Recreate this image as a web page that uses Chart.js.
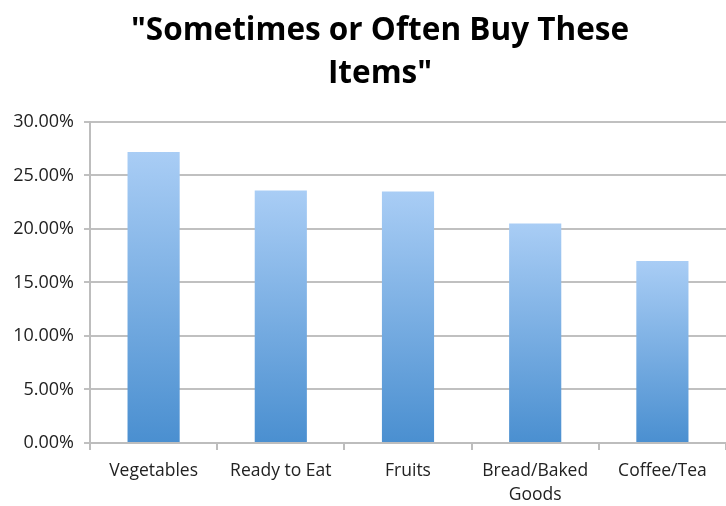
<!DOCTYPE html>
<html>
<head>
<meta charset="utf-8">
<script src="https://cdn.jsdelivr.net/npm/chart.js@4"></script>
<style>
  html, body { margin: 0; padding: 0; background: #fff; }
  #wrap { width: 726px; height: 506px; }
</style>
</head>
<body>
<div id="wrap"><canvas id="buyChart"></canvas></div>
<script>
// categories and share of respondents (percent)
const categories = ['Vegetables', 'Ready to Eat', 'Fruits', ['Bread/Baked', 'Goods'], 'Coffee/Tea']
const shares = [27.2, 23.6, 23.5, 20.5, 17.0]
const titleLines = ['"Sometimes or Often Buy These', 'Items"']

const yMax = 30
const yStep = 5

// each bar fades from light blue at its top to a deeper blue at the base
function barFill(ctx) {
    const chart = ctx.chart
    if (ctx.type !== 'data' || !chart.chartArea) return '#7fb0e6'
    const y = chart.scales.y
    const top = y.getPixelForValue(ctx.raw)
    const bottom = y.getPixelForValue(0)
    const g = chart.ctx.createLinearGradient(0, top, 0, bottom)
    g.addColorStop(0, '#a9cdf5')
    g.addColorStop(1, '#4a8fd0')
    return g
}

// title sits a little right of the canvas centre
const titleShift = {
    id: 'titleShift',
    afterLayout(chart) {
        if (chart.titleBlock) chart.titleBlock.left = 34
    }
}

new Chart(document.getElementById('buyChart'), {
    type: 'bar',
    data: {
        labels: categories,
        datasets: [{
            data: shares,
            backgroundColor: barFill,
            borderWidth: 0,
            barPercentage: 0.41,
            categoryPercentage: 1
        }]
    },
    plugins: [titleShift],
    options: {
        responsive: true,
        maintainAspectRatio: false,
        animation: false,
        layout: { padding: { left: 6, right: 0, top: 0, bottom: 0 } },
        plugins: {
            legend: { display: false },
            tooltip: { enabled: false },
            title: {
                display: true,
                text: titleLines,
                color: '#000',
                font: { family: 'Open Sans', size: 31.5, weight: 'bold', lineHeight: 1.38 },
                padding: { top: 9, bottom: 26 }
            }
        },
        scales: {
            x: {
                afterFit: function (scale) { scale.height = 63 },
                grid: {
                    display: true,
                    offset: true,
                    drawOnChartArea: false,
                    drawTicks: true,
                    tickLength: 7,
                    color: '#bdbdbd',
                    lineWidth: 2
                },
                border: { display: true, color: '#bdbdbd', width: 2 },
                ticks: {
                    color: '#222',
                    font: { family: 'Open Sans', size: 17.5, lineHeight: 1.37 },
                    padding: 9,
                    maxRotation: 0,
                    autoSkip: false
                }
            },
            y: {
                min: 0,
                max: yMax,
                afterFit: function (scale) { scale.width = 84 },
                grid: {
                    color: '#c0c0c0',
                    lineWidth: 2,
                    tickLength: 6
                },
                border: { display: true, color: '#bdbdbd', width: 2 },
                ticks: {
                    stepSize: yStep,
                    color: '#222',
                    font: { family: 'Open Sans', size: 18 },
                    padding: 10,
                    callback: function (v) { return v.toFixed(2) + '%' }
                }
            }
        }
    }
})
</script>
</body>
</html>
